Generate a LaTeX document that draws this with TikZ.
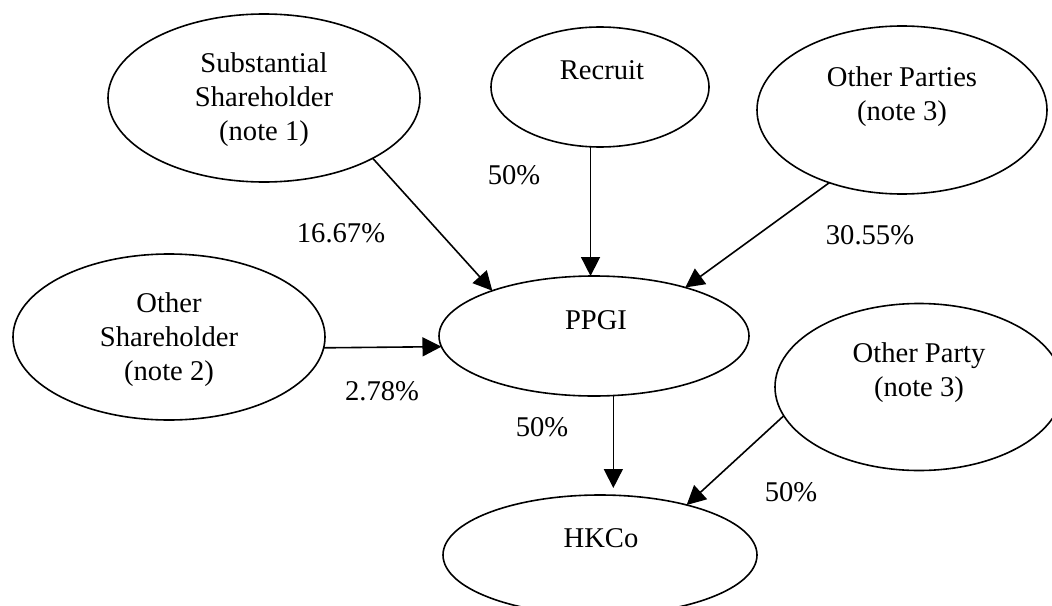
\documentclass[tikz,border=0pt]{standalone}
\usepackage{fontspec}
\setmainfont{Liberation Serif}
\usetikzlibrary{shapes.geometric,arrows.meta}
\begin{document}
\begin{tikzpicture}[x=1pt,y=-1pt,
  ell/.style={draw, ellipse, line width=1.6pt, inner sep=0pt, outer sep=0pt},
  txt/.style={align=center, font=\fontsize{28.6}{34}\selectfont, inner sep=0pt},
  pct/.style={font=\fontsize{28.6}{34}\selectfont, inner sep=0pt},
  arr/.style={line width=1.6pt, -{Triangle[length=19pt,width=19pt]}}]
\useasboundingbox (0,0) rectangle (1052,605);
% ellipses
\node[ell, minimum width=312pt, minimum height=168pt] (sub) at (264,98) {};
\node[ell, minimum width=218pt, minimum height=120pt] (rec) at (600,87) {};
\node[ell, minimum width=290pt, minimum height=168pt] (opa) at (902,110) {};
\node[ell, minimum width=312pt, minimum height=166pt] (osh) at (169,337) {};
\node[ell, minimum width=310pt, minimum height=120pt] (ppgi) at (594,336) {};
\node[ell, minimum width=288pt, minimum height=167pt] (opy) at (919,387) {};
\node[ell, minimum width=314pt, minimum height=120pt] (hk) at (600,555) {};
% texts
\node[txt] (subt) at (264,100) {Substantial\\Shareholder\\(note 1)};
\node[txt] (rect) at (602,70) {Recruit};
\node[txt] (opat) at (902,97) {Other Parties\\(note 3)};
\node[txt] (osht) at (169,340) {Other\\Shareholder\\(note 2)};
\node[txt] (ppgit) at (596,320) {PPGI};
\node[txt] (opyt) at (919,373) {Other Party\\(note 3)};
\node[txt] (hkt) at (601,538) {HKCo};
% connectors
\draw[arr] (sub.-29.2) -- (ppgi.156.1);
\draw[arr] (rec.-99.5) -- (rec.-99.5 |- ppgi.north);
\draw[arr] (opa.-135.4) -- (ppgi.28.8);
\draw[arr] (osh.-4.4) -- (ppgi.184.9);
\draw[arr, shorten >=7pt] (ppgi.-72.3) -- (ppgi.-72.3 |- hk.north);
\draw[arr] (opy.-168.5) -- (hk.30.6);
% percentages
\node[pct] (p1) at (341,233) {16.67\%};
\node[pct] (p2) at (514,175) {50\%};
\node[pct] (p3) at (870,235) {30.55\%};
\node[pct] (p4) at (382,391) {2.78\%};
\node[pct] (p5) at (542,427) {50\%};
\node[pct] (p6) at (791,492) {50\%};
\end{tikzpicture}
\end{document}
